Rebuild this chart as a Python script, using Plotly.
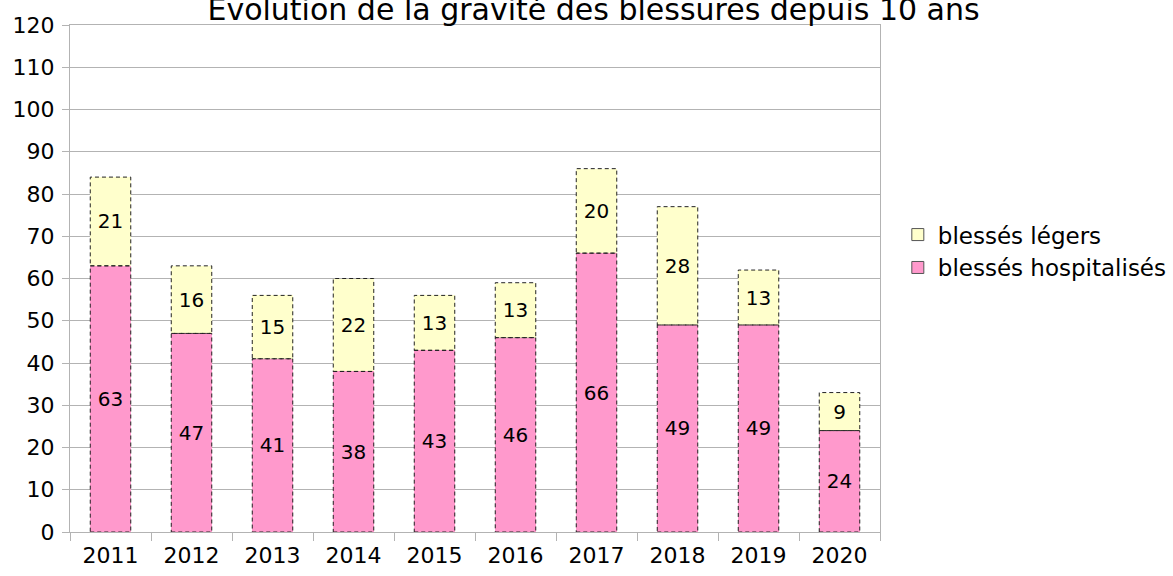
import plotly.graph_objects as go

years = ["2011", "2012", "2013", "2014", "2015", "2016", "2017", "2018", "2019", "2020"]
hospitalises = [63, 47, 41, 38, 43, 46, 66, 49, 49, 24]
legers = [21, 16, 15, 22, 13, 13, 20, 28, 13, 9]

BAR_W = 0.5
FONT = "DejaVu Sans, Liberation Sans, Arial, sans-serif"
PINK = "#ff99cc"
YELLOW = "#ffffcc"

fig = go.Figure()
for vals, name, color in ((hospitalises, "blessés hospitalisés", PINK),
                          (legers, "blessés légers", YELLOW)):
    fig.add_trace(go.Bar(
        x=years, y=vals, name=name, width=BAR_W, showlegend=False,
        marker=dict(color=color, line=dict(width=0)),
        text=vals, textposition="inside", insidetextanchor="middle",
        textangle=0, constraintext="none",
        textfont=dict(color="black", size=20, family=FONT),
    ))
# legend-only entries (swatches with border)
for name, color in (("blessés hospitalisés", PINK), ("blessés légers", YELLOW)):
    fig.add_trace(go.Bar(
        x=[None], y=[None], name=name, showlegend=True,
        marker=dict(color=color, line=dict(width=1, color="#555555")),
    ))

shapes = []
for i, (h, l) in enumerate(zip(hospitalises, legers)):
    for y0, y1 in ((0, h), (h, h + l)):
        shapes.append(dict(
            type="rect", xref="x", yref="y",
            x0=i - BAR_W / 2, x1=i + BAR_W / 2, y0=y0, y1=y1,
            line=dict(color="#222222", width=1, dash="4px,3px"),
            fillcolor="rgba(0,0,0,0)", layer="above",
        ))

fig.update_layout(
    width=1173, height=576,
    barmode="stack",
    paper_bgcolor="white", plot_bgcolor="white",
    margin=dict(l=70, r=293, t=25, b=44, autoexpand=False),
    font=dict(family=FONT, color="black", size=22),
    title=dict(text="Évolution de la gravité des blessures depuis 10 ans",
               x=0.506, xref="container", xanchor="center",
               y=1 - 20 / 576, yref="container", yanchor="bottom",
               font=dict(size=30, family=FONT, color="black"),
               automargin=False),
    legend=dict(x=1.022, xanchor="left", y=0.554, yanchor="middle",
                traceorder="reversed", font=dict(size=23, family=FONT),
                itemwidth=30, tracegroupgap=0, bgcolor="rgba(0,0,0,0)"),
    shapes=shapes,
    showlegend=True,
)
fig.update_xaxes(
    type="category", tickson="boundaries", ticks="outside", ticklen=8,
    tickcolor="#b3b3b3", showline=True, linecolor="#b3b3b3", mirror=True,
    showgrid=False, tickfont=dict(size=22, family=FONT), automargin=False,
    ticklabelstandoff=4,
)
fig.update_yaxes(
    range=[0, 120], dtick=10, ticks="outside", ticklen=7, tickcolor="#b3b3b3",
    showline=True, linecolor="#b3b3b3", mirror=True,
    showgrid=True, gridcolor="#b3b3b3", gridwidth=1, zeroline=False,
    tickfont=dict(size=22, family=FONT), automargin=False,
    ticklabelstandoff=3,
)

fig.write_html("out.html", config={"displayModeBar": False},
               post_script="document.body.style.margin='0';document.body.style.padding='0';")
